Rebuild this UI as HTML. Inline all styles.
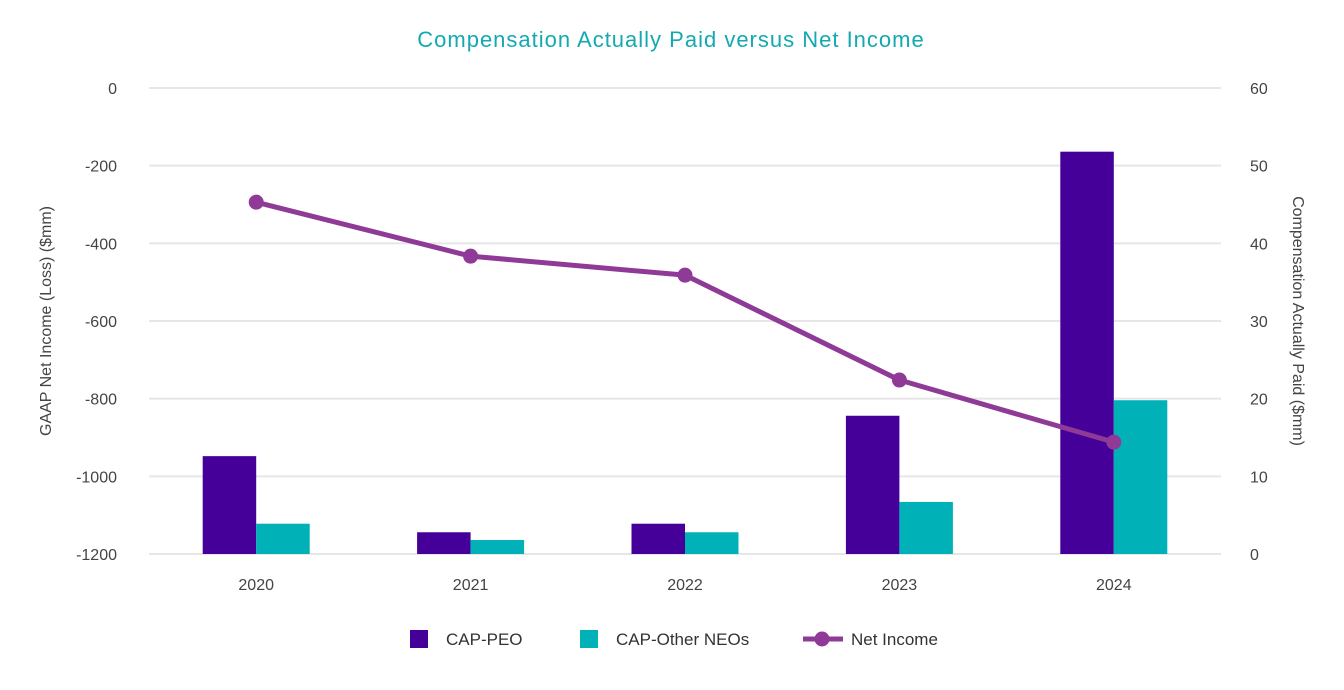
<!DOCTYPE html>
<html><head><meta charset="utf-8"><style>
html,body{margin:0;padding:0;background:#fff;}
svg{display:block;font-family:"Liberation Sans",sans-serif;}
</style></head><body>
<svg id="chart" width="1344" height="690">
<text x="671" y="47" text-anchor="middle" font-size="22" letter-spacing="1" fill="#14a9b1">Compensation Actually Paid versus Net Income</text>
<g id="grid"></g><g id="bars"></g><g id="line"></g><g id="axes"></g>
<text transform="translate(51,321) rotate(-90)" text-anchor="middle" font-size="16" fill="#444">GAAP Net Income (Loss) ($mm)</text>
<text transform="translate(1293,321) rotate(90)" text-anchor="middle" font-size="16" fill="#444">Compensation Actually Paid ($mm)</text>
<g>
<rect x="410" y="630" width="18" height="18" fill="#46009a"/>
<text x="446" y="645" font-size="17" fill="#333">CAP-PEO</text>
<rect x="580" y="630" width="18" height="18" fill="#00b2b8"/>
<text x="616" y="645" font-size="17" fill="#333">CAP-Other NEOs</text>
<line x1="803" y1="639" x2="843" y2="639" stroke="#8e3a96" stroke-width="5"/>
<circle cx="822" cy="639" r="7.5" fill="#8e3a96"/>
<text x="851" y="645" font-size="17" fill="#333">Net Income</text>
</g>
</svg>
<script>
const years=["2020","2021","2022","2023","2024"];
const capPeo=[12.6,2.8,3.9,17.8,51.8];
const capOther=[3.9,1.8,2.8,6.7,19.8];
const netIncome=[-294,-433,-482,-752,-912];
const leftTicks=[0,-200,-400,-600,-800,-1000,-1200];
const rightTicks=[60,50,40,30,20,10,0];
const NS="http://www.w3.org/2000/svg";
const X0=149,X1=1221,Y0=88,Y1=554;
const band=(X1-X0)/years.length;
const xc=i=>X0+band*(i+0.5);
const yL=v=>Y0+(0-v)/1200*(Y1-Y0);
const yR=v=>Y1-v/60*(Y1-Y0);
function mk(tag,attrs,parent){const e=document.createElementNS(NS,tag);for(const k in attrs)e.setAttribute(k,attrs[k]);document.getElementById(parent).appendChild(e);return e;}
leftTicks.forEach((t,i)=>{
 const g=mk("line",{x1:X0,x2:X1,y1:yL(t),y2:yL(t),stroke:"#e6e6e6","stroke-width":2},"grid");
 
 
 const l=mk("text",{x:117,y:yL(t)+6,"text-anchor":"end","font-size":16,fill:"#444"},"axes");
 l.textContent=t;
 
 
});
rightTicks.forEach(t=>{
 const l=mk("text",{x:1250,y:yR(t)+6,"text-anchor":"start","font-size":16,fill:"#444"},"axes");
 l.textContent=t;
 
 
});
const bw=53.5;
years.forEach((y,i)=>{
 const c=xc(i);
 const b1=mk("rect",{x:c-bw,y:yR(capPeo[i]),width:bw,height:Y1-yR(capPeo[i]),fill:"#46009a"},"bars");
 
 
 const b2=mk("rect",{x:c,y:yR(capOther[i]),width:bw,height:Y1-yR(capOther[i]),fill:"#00b2b8"},"bars");
 
 
 const l=mk("text",{x:c,y:590,"text-anchor":"middle","font-size":16,fill:"#444"},"axes");
 l.textContent=y;
 
 
});
const pts=netIncome.map((v,i)=>xc(i)+","+yL(v)).join(" ");
const pl=mk("polyline",{points:pts,fill:"none",stroke:"#8e3a96","stroke-width":5,"stroke-linejoin":"round"},"line");


netIncome.forEach((v,i)=>{
 const c=mk("circle",{cx:xc(i),cy:yL(v),r:7.5,fill:"#8e3a96"},"line");
 
 
});
</script>
</body></html>
